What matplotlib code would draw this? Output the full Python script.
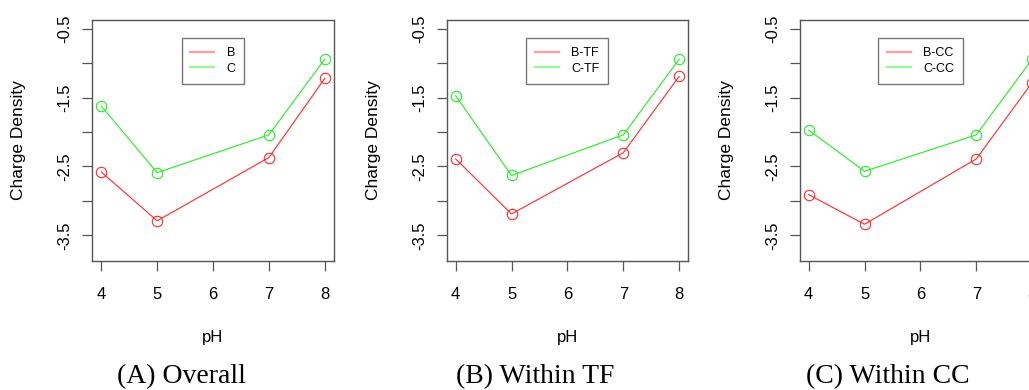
import matplotlib
matplotlib.use('Agg')
import matplotlib.pyplot as plt
from matplotlib.lines import Line2D

# Charge density vs pH, three panels in R base-graphics style

ph = [4, 5, 7, 8]

overall_b = [-2.58, -3.29, -2.37, -1.22]
overall_c = [-1.62, -2.59, -2.04, -0.94]
tf_b = [-2.39, -3.19, -2.30, -1.19]
tf_c = [-1.47, -2.63, -2.04, -0.94]
cc_b = [-2.91, -3.34, -2.39, -1.28]
cc_c = [-1.97, -2.57, -2.04, -0.94]

panels = [
    (overall_b, overall_c, ['B', 'C'], '(A) Overall'),
    (tf_b, tf_c, ['B-TF', 'C-TF'], '(B) Within TF'),
    (cc_b, cc_c, ['B-CC', 'C-CC'], '(C) Within CC'),
]

x_ticks = [4, 5, 6, 7, 8]
y_major = [-0.5, -1.5, -2.5, -3.5]
y_minor = [-1.0, -2.0, -3.0]

W, H = 1029, 390
box_left = [92.3, 446.7, 799.7]   # pixel positions of each plot box
box_w, box_top, box_bot = 241.4, 20.0, 260.7
title_x = [181, 535, 888]

plt.rcParams['font.family'] = ['Liberation Sans', 'DejaVu Sans']
edge = '#555555'
red, green = '#ff2a2a', '#22ee22'

fig = plt.figure(figsize=(W / 100, H / 100), dpi=100)

for i, (yb, yc, labels, title) in enumerate(panels):
    ax = fig.add_axes([box_left[i] / W, 1 - box_bot / H, box_w / W, (box_bot - box_top) / H])
    ax.plot(ph, yb, color=red, lw=0.8, marker='o', ms=7.5, mfc='none', mew=0.8)
    ax.plot(ph, yc, color=green, lw=0.8, marker='o', ms=7.5, mfc='none', mew=0.8)
    ax.set_xlim(3.84, 8.16)
    ax.set_ylim(-3.87, -0.37)

    ax.set_xticks(x_ticks)
    ax.set_yticks(y_major)
    ax.set_yticks(y_minor, minor=True)
    ax.set_yticklabels([f'{v:g}' for v in y_major], rotation=90, va='center')
    ax.tick_params(axis='both', which='both', length=7.2, width=0.9, color=edge,
                   labelsize=12, direction='out')
    ax.tick_params(axis='x', pad=12)
    ax.tick_params(axis='y', pad=7)
    for s in ax.spines.values():
        s.set_color(edge)
        s.set_linewidth(1.0)

    ax.set_xlabel('pH', fontsize=12)
    ax.xaxis.set_label_coords(0.5, -0.317)
    ax.xaxis.label.set_va('center')
    ax.set_ylabel('Charge Density', fontsize=12.5)
    ax.yaxis.set_label_coords(-0.304, 0.5)
    ax.yaxis.label.set_va('center')

    handles = [Line2D([], [], color=red, lw=1.6, alpha=0.45),
               Line2D([], [], color=green, lw=1.6, alpha=0.45)]
    leg = ax.legend(handles, labels, loc='upper center', bbox_to_anchor=(0.5, 0.95),
                    fontsize=9, frameon=True, fancybox=False, handlelength=1.9,
                    handletextpad=1.0, labelspacing=0.3, borderpad=0.7)
    leg.get_frame().set_edgecolor(edge)
    leg.get_frame().set_linewidth(1.0)

    fig.text(title_x[i] / W, 1 - 377 / H, title, ha='center', va='center',
             fontsize=20, family='Liberation Serif')

fig.savefig('out.png', dpi=100)
